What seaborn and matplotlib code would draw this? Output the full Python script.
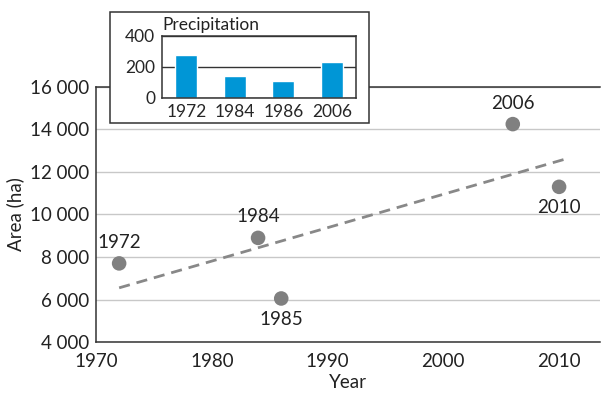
import numpy as np
import pandas as pd
import matplotlib
matplotlib.use('Agg')
import matplotlib.pyplot as plt
import seaborn as sns
from matplotlib.patches import Rectangle
from matplotlib.ticker import FuncFormatter

# main chart: flooded area per year
years = [1972, 1984, 1986, 2006, 2010]
point_labels = ['1972', '1984', '1985', '2006', '2010']
areas = [7700, 8900, 6050, 14250, 11300]
label_above = [True, True, False, True, False]

# trend line (endpoints as drawn)
trend_years = [1972, 2010.5]
trend_areas = [6550, 12600]

# inset: precipitation
precip_years = ['1972', '1984', '1986', '2006']
precip_values = [277, 142, 110, 232]

DARK = '#333333'
FS = 13.5


def main():
    sns.set_style('white')
    plt.rcParams['font.family'] = ['Lato', 'DejaVu Sans']
    plt.rcParams['font.size'] = FS

    fig = plt.figure(figsize=(6.01, 3.95), dpi=100)
    ax = fig.add_axes([0.1597, 0.134, 0.838, 0.646])

    df = pd.DataFrame({'Year': years, 'Area': areas})
    trend = pd.DataFrame({'Year': trend_years, 'Area': trend_areas})

    sns.lineplot(data=trend, x='Year', y='Area', ax=ax, color='#888888',
                 linewidth=2, linestyle=(0, (4, 2.5)), zorder=2)
    sns.scatterplot(data=df, x='Year', y='Area', ax=ax, color='#808080',
                    s=110, edgecolor='none', zorder=3)

    for x, y, lab, up in zip(years, areas, point_labels, label_above):
        if up:
            ax.annotate(lab, (x, y), xytext=(0, 9), textcoords='offset points',
                        ha='center', va='bottom', fontsize=FS, color='#222222')
        else:
            ax.annotate(lab, (x, y), xytext=(0, -9), textcoords='offset points',
                        ha='center', va='top', fontsize=FS, color='#222222')

    ax.set_xlim(1970, 2013.5)
    ax.set_ylim(4000, 16000)
    ax.set_xticks([1970, 1980, 1990, 2000, 2010])
    ax.set_yticks(np.arange(4000, 16001, 2000))
    ax.yaxis.set_major_formatter(FuncFormatter(lambda v, p: f'{int(v):,}'.replace(',', ' ')))
    ax.grid(axis='y', color='#c8c8c8', linewidth=1)
    ax.grid(axis='x', visible=False)
    ax.set_axisbelow(True)
    for side in ['left', 'bottom', 'top']:
        ax.spines[side].set_color(DARK)
        ax.spines[side].set_linewidth(1.1)
    ax.spines['right'].set_visible(False)
    ax.tick_params(axis='y', labelsize=FS, colors='#222222', length=0, pad=5)
    ax.tick_params(axis='x', labelsize=FS, colors='#222222', length=0, pad=8)
    ax.set_xlabel('Year', fontsize=FS, color='#222222', labelpad=3)
    ax.set_ylabel('Area (ha)', fontsize=FS, color='#222222', labelpad=4)

    # inset box
    box = Rectangle((0.183, 0.6886), 0.431, 0.281, transform=fig.transFigure,
                    facecolor='white', edgecolor=DARK, linewidth=1.1, zorder=5)
    fig.patches.append(box)

    ins = fig.add_axes([0.2696, 0.752, 0.3228, 0.157])
    ins.set_zorder(10)
    pdf = pd.DataFrame({'Year': precip_years, 'Precipitation': precip_values})
    sns.barplot(data=pdf, x='Year', y='Precipitation', ax=ins, color='#0096d6',
                width=0.45, saturation=1)
    ins.set_xlim(-0.5, 3.5)
    ins.set_ylim(0, 400)
    ins.set_yticks([0, 200, 400])
    ins.grid(axis='y', color=DARK, linewidth=1)
    ins.set_axisbelow(True)
    for side in ins.spines:
        ins.spines[side].set_visible(True)
        ins.spines[side].set_color(DARK)
        ins.spines[side].set_linewidth(1.1)
    ins.tick_params(axis='y', length=3, color=DARK, labelsize=12.5, pad=2)
    ins.tick_params(axis='x', length=0, labelsize=12.5, pad=4)
    ins.set_xlabel('')
    ins.set_ylabel('')
    ins.text(0.0, 1.04, 'Precipitation', transform=ins.transAxes, ha='left',
             va='bottom', fontsize=12.5, color='#222222')

    fig.savefig('out.png', dpi=100)


if __name__ == '__main__':
    main()
